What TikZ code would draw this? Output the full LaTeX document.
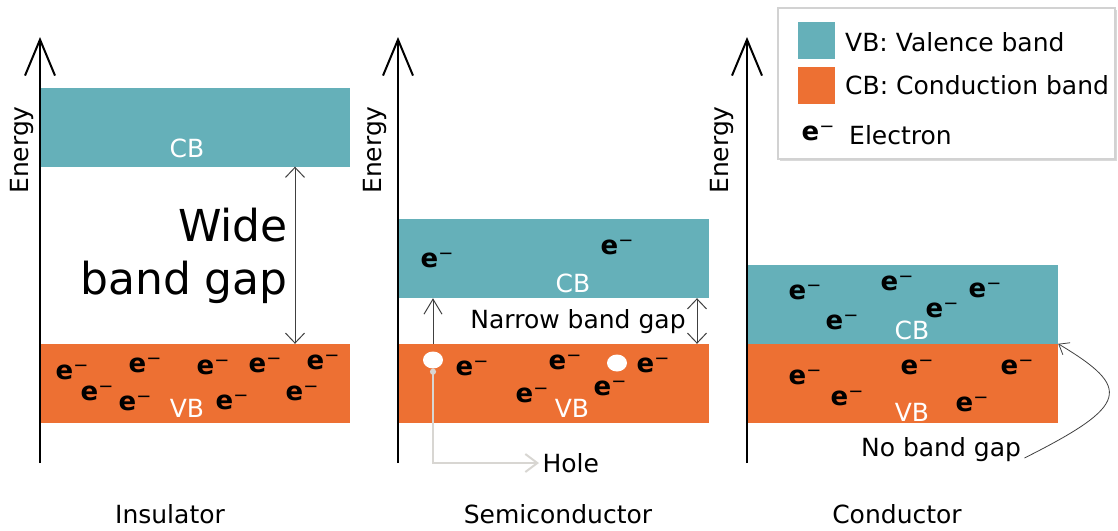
\documentclass[tikz,border=0pt]{standalone}
\usepackage{fontspec}
\setmainfont{DejaVu Sans}
\usetikzlibrary{arrows.meta, shapes.geometric, shadows}
\definecolor{cbteal}{RGB}{101,176,185}
\definecolor{vborange}{RGB}{237,112,51}
\definecolor{holegray}{RGB}{216,214,210}
\definecolor{gapgray}{RGB}{64,64,64}
\newcommand{\lblfont}{\fontsize{25}{30}\selectfont}
\newcommand{\elec}{\textbf{e}\raisebox{0.3em}{\fontsize{18}{18}\selectfont −}}
\tikzstyle{cbband}   = [rectangle, fill=cbteal, minimum width=310pt, minimum height=79pt, inner sep=0pt]
\tikzstyle{vbband}   = [rectangle, fill=vborange, minimum width=310pt, minimum height=79pt, inner sep=0pt]
\tikzstyle{bandlbl}  = [text=white, font=\lblfont]
\tikzstyle{elecnode} = [font=\fontsize{26}{30}\selectfont, inner sep=0pt]
\tikzstyle{hole}     = [ellipse, fill=white, minimum width=20pt, minimum height=17pt, inner sep=0pt]
\tikzstyle{swatch}   = [rectangle, minimum width=37pt, minimum height=37pt, inner sep=0pt]
\tikzstyle{axis}     = [-{Straight Barb[length=36pt, width=30pt]}, line width=2pt]
\tikzstyle{gaparrow} = [{Straight Barb[length=10pt, width=19pt]}-{Straight Barb[length=10pt, width=19pt]},
                        line width=1pt, gapgray]
\tikzstyle{arrow}    = [-{Straight Barb[length=15pt, width=18pt]}, line width=1pt, gapgray]
\tikzstyle{holeline} = [{Circle[length=6pt]}-{Straight Barb[length=12pt, width=18pt]}, line width=2pt, holegray]

\begin{document}
\begin{tikzpicture}[x=1pt, y=-1pt, every node/.style={font=\lblfont}]
  \useasboundingbox (0,0) rectangle (1118,530);

  % bands
  \node (cbI) [cbband] at (195,127) {};
  \node (vbI) [vbband] at (195,383.5) {};
  \node (cbS) [cbband] at (554,258.5) {};
  \node (vbS) [vbband] at (554,383.5) {};
  \node (cbC) [cbband, minimum width=312pt] at (902,304.5) {};
  \node (vbC) [vbband, minimum width=312pt] at (902,383.5) {};

  \node (cbIl) [bandlbl] at (187,148) {CB};
  \node (vbIl) [bandlbl] at (187,408) {VB};
  \node (cbSl) [bandlbl] at (573,283) {CB};
  \node (vbSl) [bandlbl] at (572,408) {VB};
  \node (cbCl) [bandlbl] at (912,330) {CB};
  \node (vbCl) [bandlbl] at (912,412) {VB};

  % axes
  \coordinate (axI0) at (40,463);  \coordinate (axI1) at (40,37);
  \coordinate (axS0) at (398,463); \coordinate (axS1) at (398,37);
  \coordinate (axC0) at (747,463); \coordinate (axC1) at (747,37);
  \draw [axis] (axI0) -- (axI1);
  \draw [axis] (axS0) -- (axS1);
  \draw [axis] (axC0) -- (axC1);
  \node (enI) [rotate=90] at (22,150)  {Energy};
  \node (enS) [rotate=90] at (375,150) {Energy};
  \node (enC) [rotate=90] at (722,150) {Energy};

  % electrons
  \foreach \x/\y [count=\i] in {72/372, 145/365, 213/367, 265/365, 323/362,
                                97/393, 135/403, 232/402, 302/393}
    \node (eI\i) [elecnode] at (\x,\y) {\elec};
  \foreach \x/\y [count=\i] in {437/260, 617/247, 472/368, 565/362, 653/365,
                                532/395, 610/388}
    \node (eS\i) [elecnode] at (\x,\y) {\elec};
  \foreach \x/\y [count=\i] in {805/292, 897/283, 985/290, 842/322, 942/310,
                                805/377, 917/367, 1017/367, 847/398, 972/404}
    \node (eC\i) [elecnode] at (\x,\y) {\elec};

  % insulator gap
  \node (wide) [align=right, anchor=north east, inner sep=0pt,
                font=\fontsize{44}{53}\selectfont] at (288,208) {Wide\\band gap};
  \coordinate (gI) at (295,0);
  \draw [gaparrow] (cbI.south -| gI) -- (vbI.north -| gI);

  % semiconductor gap and holes
  \node (narrow) at (578,322) {Narrow band gap};
  \coordinate (gS) at (697,0);
  \draw [gaparrow] (cbS.south -| gS) -- (vbS.north -| gS);
  \node (h1) [hole] at (433,360) {};
  \node (h2) [hole] at (617,363) {};
  \draw [arrow] (h1.north |- vbS.north) -- (h1.north |- cbS.south);
  \node (holelbl) [anchor=west] at (539,463) {Hole};
  \draw [holeline] (h1.south) |- (holelbl.west);

  % conductor
  \node (nogap) at (941,450) {No band gap};
  \draw [-{Straight Barb[length=9pt, width=14pt]}, line width=0.8pt, gapgray]
    ([yshift=-8pt]nogap.east) .. controls (1130,405) and (1132,388) .. (vbC.north east);

  % captions
  \node (ins)  at (170,514) {Insulator};
  \node (semi) at (558,514) {Semiconductor};
  \node (cond) at (897,514) {Conductor};

  % legend
  \node (legend) [draw=gray!35, line width=2.5pt, fill=white, minimum width=337pt,
                  minimum height=151pt, inner sep=0pt,
                  drop shadow={shadow xshift=2pt, shadow yshift=-2pt, opacity=0.3}]
                  at (946.5,83.5) {};
  \node (swVB) [swatch, fill=cbteal]   at (816.5,40.5) {};
  \node (swCB) [swatch, fill=vborange] at (816.5,85) {};
  \node (lgVB) [anchor=west, inner sep=0pt] at (845,42) {VB: Valence band};
  \node (lgCB) [anchor=west, inner sep=0pt] at (845,85) {CB: Conduction band};
  \node (lgE)  [elecnode] at (818,133) {\elec};
  \node (lgEl) [anchor=west, inner sep=0pt] at (849,135) {Electron};
\end{tikzpicture}
\end{document}
